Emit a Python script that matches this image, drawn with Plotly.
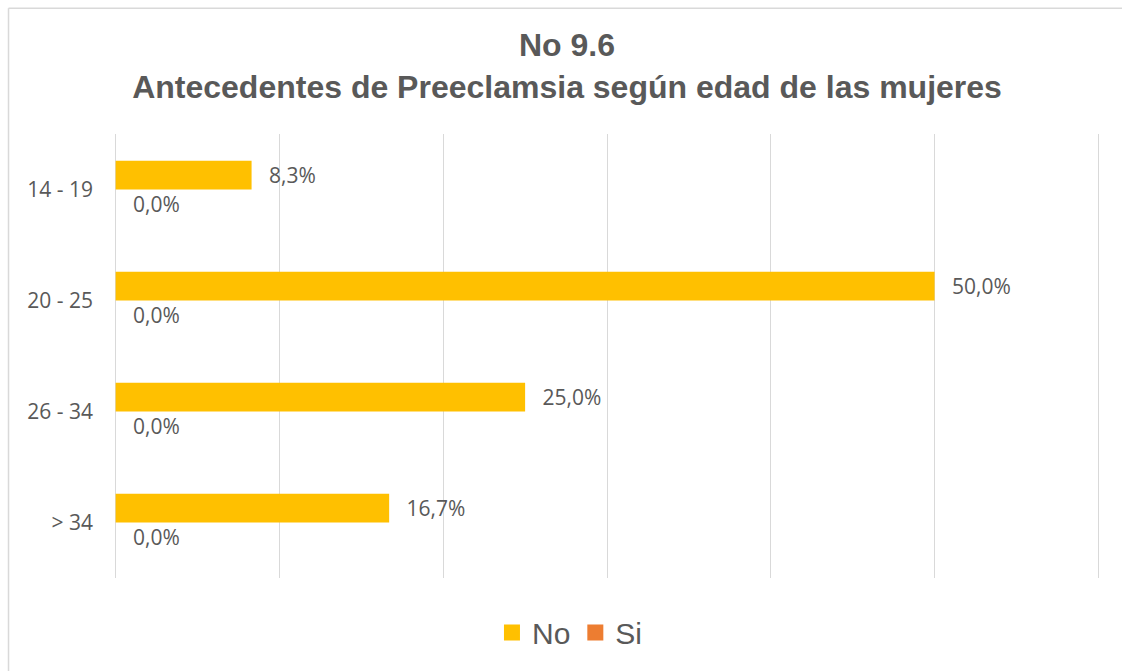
import plotly.graph_objects as go

categories = ["14 - 19", "20 - 25", "26 - 34", "> 34"]
no_values = [8.3, 50.0, 25.0, 16.7]
si_values = [0.0, 0.0, 0.0, 0.0]
series_names = ["No", "Si"]
colors = ["#FFC000", "#ED7D31"]

W, H = 1122, 671
L, R, T, B = 114.4, 22.4, 134, 89
pw, ph = W - L - R, H - T - B

fig = go.Figure()
for name, vals, col in zip(series_names, [no_values, si_values], colors):
    fig.add_trace(go.Bar(
        y=categories, x=vals, orientation="h", name=name,
        marker=dict(color=col, line=dict(width=0)),
        texttemplate="\u00a0\u00a0\u2009%{x:.1f}%", textposition="outside",
        textfont=dict(family="Open Sans", size=21, color="#595959"),
        cliponaxis=False, showlegend=False,
    ))
for name, col in zip(series_names, colors):
    fig.add_trace(go.Scatter(
        x=[None], y=[None], mode="markers", name=name,
        marker=dict(symbol="square", size=17, color=col),
        showlegend=True,
    ))

def px_x(p):
    return (p - L) / pw

def px_y(p):
    return (H - B - p) / ph

border = dict(color="#D9D9D9", width=1.5)

fig.update_layout(
    width=W, height=H,
    margin=dict(l=L, r=R, t=T, b=B),
    paper_bgcolor="white", plot_bgcolor="white",
    separators=",.",
    barmode="group", bargap=0.48, bargroupgap=0,
    title=dict(
        text="<b>No 9.6</b><br><b>Antecedentes de Preeclamsia según edad de las mujeres</b>",
        x=567 / W, xanchor="center", xref="container",
        y=1 - 56 / H, yanchor="middle", yref="container",
        font=dict(family="Liberation Sans", size=32, color="#595959"),
    ),
    xaxis=dict(
        range=[-0.1, 60.1], dtick=10, tick0=0, showgrid=True, gridcolor="#D9D9D9", gridwidth=1,
        zeroline=True, zerolinecolor="#D9D9D9", zerolinewidth=1,
        showline=False, showticklabels=False, fixedrange=True,
    ),
    yaxis=dict(
        autorange="reversed", showgrid=False, zeroline=False, showline=False,
        tickfont=dict(family="Open Sans", size=21, color="#595959"),
        ticklabelstandoff=20, fixedrange=True,
    ),
    legend=dict(
        orientation="h", x=px_x(570), xanchor="center",
        y=px_y(637), yanchor="middle",
        font=dict(family="Liberation Sans", size=30, color="#595959"),
        itemsizing="trace",
    ),
    shapes=[
        dict(type="line", xref="paper", yref="paper",
             x0=px_x(9), x1=px_x(1200), y0=px_y(7), y1=px_y(7), line=border, layer="below"),
        dict(type="line", xref="paper", yref="paper",
             x0=px_x(9), x1=px_x(9), y0=px_y(7), y1=px_y(700), line=border, layer="below"),
    ],
)

fig.write_html("out.html", config={"displayModeBar": False},
               post_script="document.body.style.margin='0';document.body.style.padding='0';")
